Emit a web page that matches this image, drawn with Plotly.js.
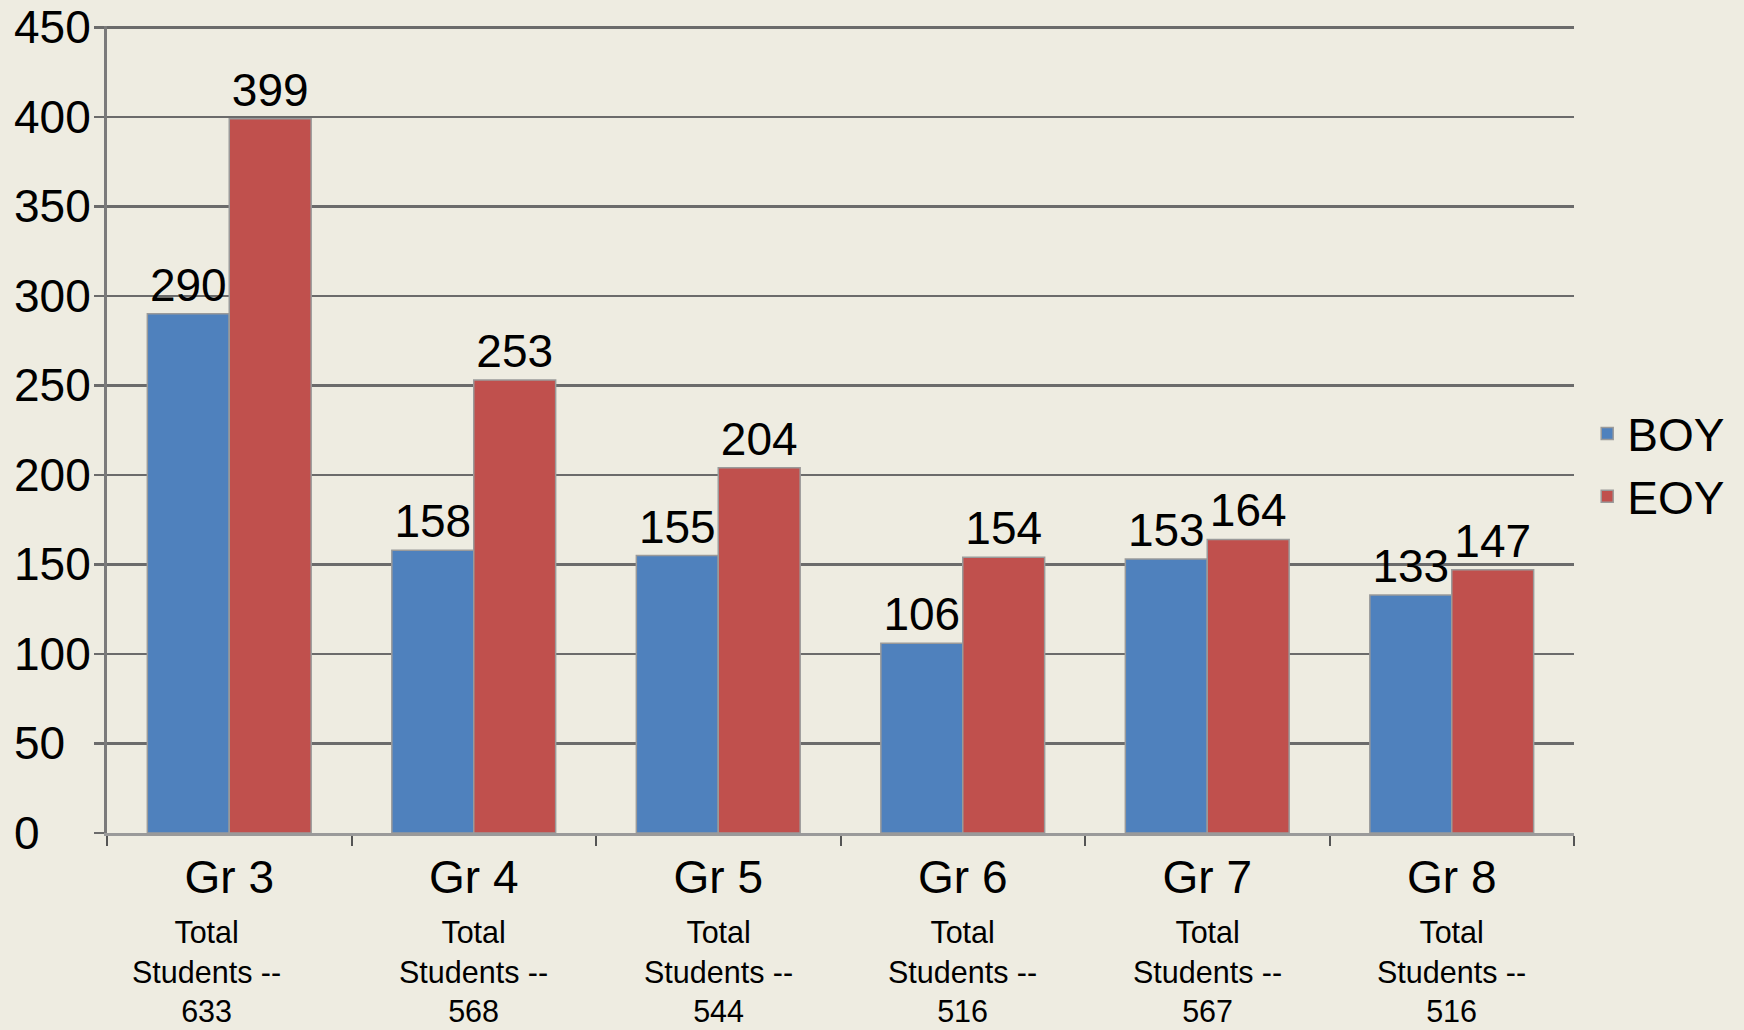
<!DOCTYPE html>
<html>
<head>
<meta charset="utf-8">
<script src="https://cdn.plot.ly/plotly-3.0.1.min.js"></script>
<style>html,body{margin:0;padding:0;background:#EEECE1;}#chart{width:1744px;height:1030px;}</style>
</head>
<body>
<div id="chart"></div>
<script>
const categories = ["Gr 3", "Gr 4", "Gr 5", "Gr 6", "Gr 7", "Gr 8"];
const boyValues = [290, 158, 155, 106, 153, 133];
const eoyValues = [399, 253, 204, 154, 164, 147];
const totalStudents = [633, 568, 544, 516, 567, 516];
const yTicks = [0, 50, 100, 150, 200, 250, 300, 350, 400, 450];

const FONT = "Liberation Sans, Arial, sans-serif";
const BIG = 46;

const traces = [
  {
    type: "bar", name: "BOY", x: categories, y: boyValues,
    text: boyValues.map(String), textposition: "outside", cliponaxis: false,
    constraintext: "none",
    textfont: {family: FONT, size: BIG, color: "#000"},
    marker: {color: "#4F81BD", line: {color: "#9a9a9a", width: 1.5}}
  },
  {
    type: "bar", name: "EOY", x: categories, y: eoyValues,
    text: eoyValues.map(String), textposition: "outside", cliponaxis: false,
    constraintext: "none",
    textfont: {family: FONT, size: BIG, color: "#000"},
    marker: {color: "#C0504D", line: {color: "#9a9a9a", width: 1.5}}
  }
];

const annotations = [];
yTicks.forEach(v => annotations.push({
  xref: "paper", yref: "y", x: -0.065, y: v, xanchor: "left", yanchor: "middle",
  text: String(v), showarrow: false, font: {family: FONT, size: BIG, color: "#000"}
}));
categories.forEach((c, i) => annotations.push({
  xref: "x", yref: "paper", x: c, y: -0.099, xanchor: "center", yanchor: "top",
  xshift: i === 0 ? -23 : 0,
  text: "Total<br>Students --<br>" + totalStudents[i], showarrow: false,
  font: {family: FONT, size: 30.5, color: "#000"}
}));

const layout = {
  width: 1744, height: 1030,
  paper_bgcolor: "#EEECE1", plot_bgcolor: "#EEECE1",
  margin: {l: 107, r: 170, t: 26, b: 197},
  barmode: "group", bargap: 0.33, bargroupgap: 0,
  showlegend: true,
  legend: {x: 1.009, y: 0.456, xanchor: "left", yanchor: "middle",
    font: {family: FONT, size: BIG, color: "#000"}, bgcolor: "rgba(0,0,0,0)",
    tracegroupgap: 0},
  xaxis: {
    type: "category", showgrid: false, showline: true, linecolor: "#9a9a9a", linewidth: 3,
    ticks: "outside", tickson: "boundaries", ticklen: 10, tickcolor: "#555", tickwidth: 2,
    tickfont: {family: FONT, size: BIG, color: "#000"}, ticklabelstandoff: 2
  },
  yaxis: {
    range: [0, 450.8], tickvals: yTicks, showticklabels: false,
    showgrid: true, gridcolor: "#6b6b6b", gridwidth: 2.5,
    showline: true, linecolor: "#7a7a7a", linewidth: 3,
    ticks: "outside", ticklen: 10, tickcolor: "#6b6b6b", tickwidth: 2.5,
    zeroline: false
  },
  annotations: annotations
};

Plotly.newPlot("chart", traces, layout, {displayModeBar: false, staticPlot: true});
</script>
</body>
</html>
